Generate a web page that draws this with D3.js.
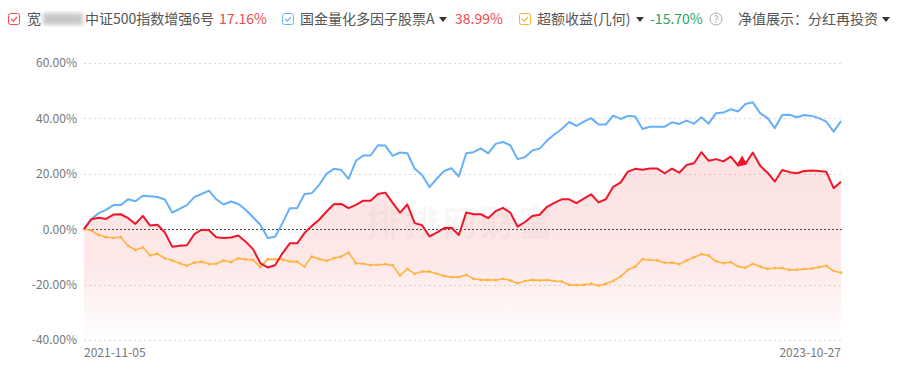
<!DOCTYPE html>
<html>
<head>
<meta charset="utf-8">
<script src="https://cdn.jsdelivr.net/npm/d3@7"></script>
<style>
  body { margin: 0; background: #fff; }
  svg { display: block; font-family: "Microsoft YaHei", "Noto Sans CJK SC", "Noto Sans", sans-serif; }
</style>
</head>
<body>
<div id="chart"></div>
<script>
// weekly navs, cumulative return in %
const startDate = "2021-11-05";
const endDate = "2023-10-27";

const fundReturn = [0, 3.6, 4.1, 3.7, 5.3, 5.4, 4.0, 1.9, 4.8, 1.3, 1.6, -1.2, -6.3, -6.0, -5.8, -1.8, -0.2, -0.4, -2.9, -3.2,
  -3.0, -2.3, -4.5, -7.2, -12.3, -13.8, -13.0, -8.7, -5.1, -5.1, -1.4, 1.2, 3.4, 6.4, 9.0, 9.1, 7.6, 8.8, 10.3, 10.3,
  12.7, 13.2, 9.5, 6.0, 8.9, 2.2, 1.4, -2.6, -1.2, 0.4, 0.5, -2.1, 6.0, 5.4, 5.4, 4.0, 6.5, 7.7, 6.0, 0.9,
  2.6, 4.8, 5.2, 8.1, 9.5, 10.8, 10.8, 9.4, 11.0, 12.6, 9.7, 10.8, 15.3, 16.8, 20.8, 21.8, 21.5, 21.9, 21.9, 20.2,
  21.9, 20.4, 23.2, 23.8, 27.8, 24.7, 25.3, 24.5, 26.2, 23.0, 23.6, 27.7, 22.9, 20.4, 17.2, 21.4, 20.6, 20.2, 21.0, 21.2,
  21.0, 20.7, 14.8, 17.16];

const benchReturn = [0, 3.7, 5.8, 7.0, 8.7, 8.7, 10.8, 10.1, 12.1, 11.9, 11.6, 10.7, 6.0, 7.3, 8.7, 11.6, 12.7, 13.9, 10.8, 8.9,
  10.0, 9.1, 7.0, 4.3, 1.6, -3.2, -2.7, 2.2, 7.6, 7.6, 12.7, 13.0, 16.0, 20.0, 21.8, 21.4, 18.2, 24.7, 26.6, 26.6,
  30.3, 30.2, 26.5, 27.7, 27.4, 21.8, 19.6, 15.2, 18.2, 21.0, 22.0, 19.0, 27.4, 27.8, 29.2, 27.4, 30.8, 31.5, 30.3, 25.3,
  26.0, 28.4, 29.1, 32.0, 34.2, 36.2, 38.7, 37.3, 38.8, 40.1, 37.8, 37.8, 41.0, 39.8, 40.9, 40.7, 36.2, 37.0, 37.0, 37.0,
  38.6, 38.0, 39.2, 38.1, 40.4, 38.1, 41.9, 42.1, 43.3, 42.5, 45.2, 45.8, 41.9, 40.1, 36.5, 41.2, 41.3, 40.4, 41.2, 40.9,
  40.1, 38.8, 35.2, 38.99];

const excessReturn = [0, -0.5, -2.1, -2.9, -3.1, -2.9, -6.0, -7.5, -6.6, -9.4, -8.9, -10.5, -11.3, -12.3, -13.2, -12.1, -11.7, -12.6, -12.5, -11.3,
  -11.9, -10.5, -10.9, -11.1, -13.7, -10.8, -10.9, -10.9, -11.7, -11.7, -13.5, -9.9, -10.8, -11.4, -10.5, -9.9, -8.4, -12.3, -12.5, -12.9,
  -12.9, -12.6, -13.1, -16.7, -14.3, -16.1, -15.3, -15.3, -16.1, -16.9, -17.3, -17.3, -16.5, -17.9, -18.3, -18.3, -18.4, -17.9, -18.5, -19.5,
  -18.7, -18.3, -18.5, -18.3, -18.7, -18.9, -20.1, -20.2, -20.1, -19.7, -20.4, -19.7, -18.7, -17.1, -14.7, -13.5, -10.8, -11.1, -11.3, -12.1,
  -12.1, -12.6, -11.3, -10.1, -9.0, -9.5, -11.6, -12.3, -11.9, -13.5, -13.9, -12.5, -13.5, -14.3, -14.1, -14.0, -14.7, -14.6, -14.4, -14.2,
  -13.7, -13.2, -15.1, -15.7];

const yTicks = [-40, -20, 0, 20, 40, 60];
const xTickLabels = ["2021-11-05", "2023-10-27"];
const markIndex = 89; // red triangle marker

const width = 900;
const height = 374;

const parse = d3.timeParse("%Y-%m-%d");
const dates = d3.timeFriday.range(parse(startDate), d3.timeDay.offset(parse(endDate), 1));

const svg = d3.select('#chart')
    .append('svg')
    .attr('width', width)
    .attr('height', height);

const x = d3.scaleTime()
    .domain([parse(startDate), parse(endDate)])
    .range([84, 841]);

const y = d3.scaleLinear()
    .domain([-40, 60])
    .range([340, 63]);

// pink gradient under the fund line
const defs = svg.append('defs');
const grad = defs.append('linearGradient')
    .attr('id', 'pink')
    .attr('gradientUnits', 'userSpaceOnUse')
    .attr('x1', 0).attr('x2', 0)
    .attr('y1', y(30)).attr('y2', y(-40));
grad.append('stop').attr('offset', 0).attr('stop-color', 'rgb(240,60,60)').attr('stop-opacity', 0.15);
grad.append('stop').attr('offset', 0.6).attr('stop-color', 'rgb(240,60,60)').attr('stop-opacity', 0.12);
grad.append('stop').attr('offset', 1).attr('stop-color', 'rgb(240,60,60)').attr('stop-opacity', 0);

defs.append('filter').attr('id', 'blur')
    .append('feGaussianBlur').attr('stdDeviation', 2);

// grid
svg.append('g')
  .selectAll('line')
  .data(yTicks)
  .enter()
  .append('line')
  .attr('x1', 84)
  .attr('x2', 842)
  .attr('y1', d => Math.round(y(d)) + 0.5)
  .attr('y2', d => Math.round(y(d)) + 0.5)
  .attr('stroke', d => d === 0 ? '#444' : '#d9d9d9')
  .attr('stroke-dasharray', d => d === 0 ? '2,2' : '2,3')
  .attr('stroke-width', 1);

// y axis labels
const yAxis = d3.axisLeft(y)
    .tickValues(yTicks)
    .tickSize(0)
    .tickPadding(0)
    .tickFormat(d => d.toFixed(2) + '%');

svg.append('g')
  .attr('transform', 'translate(77,0)')
  .call(yAxis)
  .call(g => g.select('.domain').remove())
  .selectAll('text')
  .attr('fill', '#777')
  .style('font-size', '12px')
  .style('font-family', '"Microsoft YaHei", "Noto Sans CJK SC", sans-serif');

// x labels (first and last only)
svg.append('g')
  .selectAll('text')
  .data(xTickLabels)
  .enter()
  .append('text')
  .attr('x', d => x(parse(d)))
  .attr('y', 357)
  .attr('text-anchor', (d, i) => i === 0 ? 'start' : 'end')
  .attr('fill', '#777')
  .style('font-size', '12px')
  .text(d => d);

// watermark
svg.append('text')
  .attr('x', 461)
  .attr('y', 236)
  .attr('text-anchor', 'middle')
  .attr('fill', '#000')
  .attr('fill-opacity', 0.05)
  .style('font-size', '35px')
  .style('font-weight', 'bold')
  .style('letter-spacing', '3px')
  .text('排排网财富');

const area = d3.area()
    .x((d, i) => x(dates[i]))
    .y0(y(-40))
    .y1(d => y(d));

svg.append('path')
  .datum(fundReturn)
  .attr('d', area)
  .attr('fill', 'url(#pink)');

const line = d3.line()
    .x((d, i) => x(dates[i]))
    .y(d => y(d));

svg.append('path')
  .datum(benchReturn)
  .attr('d', line)
  .attr('fill', 'none')
  .attr('stroke', '#66b0fa')
  .attr('stroke-width', 2)
  .attr('stroke-linejoin', 'round');

svg.append('path')
  .datum(excessReturn)
  .attr('d', line)
  .attr('fill', 'none')
  .attr('stroke', '#fdb443')
  .attr('stroke-width', 1.6)
  .attr('stroke-linejoin', 'round');

svg.append('g')
  .selectAll('circle')
  .data(excessReturn)
  .enter()
  .append('circle')
  .attr('cx', (d, i) => x(dates[i]))
  .attr('cy', d => y(d))
  .attr('r', 1.4)
  .attr('fill', '#fdb443');

svg.append('path')
  .datum(fundReturn)
  .attr('d', line)
  .attr('fill', 'none')
  .attr('stroke', '#f0162a')
  .attr('stroke-width', 2)
  .attr('stroke-linejoin', 'round');

// triangle marker
svg.append('path')
  .attr('d', d3.symbol().type(d3.symbolTriangle).size(48))
  .attr('transform', 'translate(' + (x(dates[markIndex]) + 4) + ',' + (y(fundReturn[markIndex]) - 4) + ')')
  .attr('fill', '#f0162a');

// legend
const legend = svg.append('g').style('font-size', '14px');
const ly = 19;

function checkbox(cx, color) {
  const g = legend.append('g').attr('transform', 'translate(' + cx + ',' + (ly - 6) + ')');
  g.append('rect')
    .attr('x', 0.5).attr('y', 0.5)
    .attr('width', 11).attr('height', 11)
    .attr('rx', 2)
    .attr('fill', '#fff')
    .attr('stroke', color);
  g.append('path')
    .attr('d', 'M3.2,6 L5.4,8.2 L9,4')
    .attr('fill', 'none')
    .attr('stroke', color)
    .attr('stroke-width', 1.2);
}

function label(lx, txt, color, anchor) {
  return legend.append('text')
    .attr('x', lx)
    .attr('y', ly)
    .attr('dy', '0.36em')
    .attr('text-anchor', anchor || 'start')
    .attr('fill', color)
    .text(txt);
}

function caret(cx) {
  legend.append('path')
    .attr('d', 'M' + (cx - 4) + ',' + (ly - 2) + ' L' + (cx + 4) + ',' + (ly - 2) + ' L' + cx + ',' + (ly + 3) + 'Z')
    .attr('fill', '#333');
}

checkbox(8, '#f4474f');
label(27, '宽', '#555');
legend.append('rect')
  .attr('x', 43).attr('y', ly - 6)
  .attr('width', 40).attr('height', 12)
  .attr('fill', '#c8c8c8')
  .attr('filter', 'url(#blur)');
label(85, '中证500指数增强6号', '#555');
label(219, '17.16%', '#f0474f');

checkbox(282, '#6fb3f5');
label(300, '国金量化多因子股票A', '#555');
caret(443);
label(455, '38.99%', '#f0474f');

checkbox(519, '#f7b335');
label(537, '超额收益(几何)', '#555');
caret(640);
label(650, '-15.70%', '#27a369');

legend.append('circle')
  .attr('cx', 716).attr('cy', ly)
  .attr('r', 6)
  .attr('fill', 'none')
  .attr('stroke', '#aaa');
legend.append('text')
  .attr('x', 716).attr('y', ly)
  .attr('dy', '0.36em')
  .attr('text-anchor', 'middle')
  .attr('fill', '#aaa')
  .style('font-size', '10px')
  .text('?');

label(738, '净值展示：分红再投资', '#555');
caret(886);
</script>
</body>
</html>
